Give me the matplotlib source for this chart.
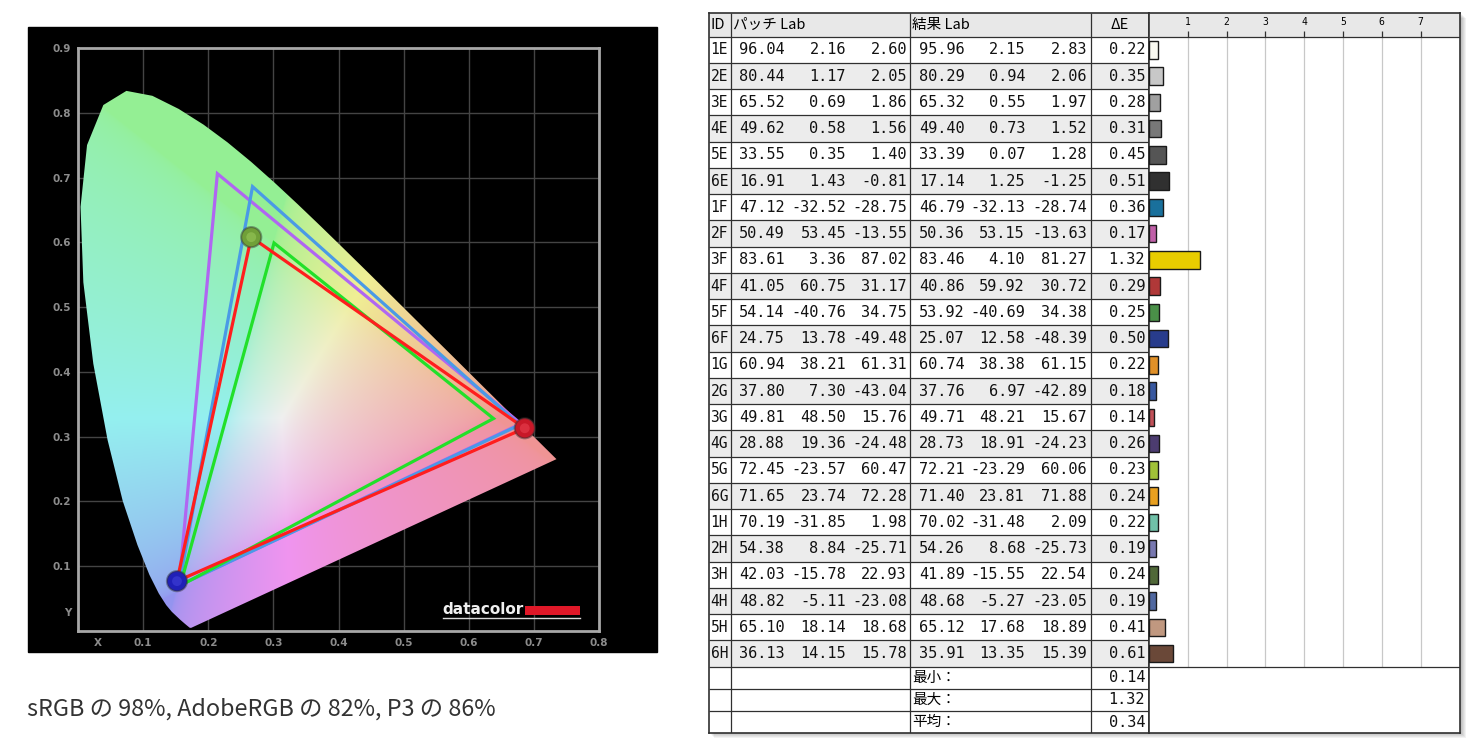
import numpy as np
import matplotlib
matplotlib.use('Agg')
import matplotlib.pyplot as plt
from matplotlib.patches import Polygon, Rectangle

W, H = 1476, 753
JP = ['Noto Sans CJK JP', 'DejaVu Sans']
MONO = 'DejaVu Sans Mono'

# CIE 1931 spectral locus (x, y), 380..700 nm
locus_x = [0.1741, 0.1733, 0.1714, 0.1644, 0.1566, 0.1440, 0.1355, 0.1241, 0.1096,
           0.0913, 0.0687, 0.0454, 0.0235, 0.0082, 0.0039, 0.0139, 0.0389, 0.0743,
           0.1142, 0.1547, 0.1929, 0.2296, 0.2658, 0.3016, 0.3373, 0.3731, 0.4087,
           0.4441, 0.4788, 0.5125, 0.5448, 0.5752, 0.6029, 0.6270, 0.6658, 0.6915,
           0.7079, 0.7190, 0.7347]
locus_y = [0.0050, 0.0048, 0.0051, 0.0109, 0.0177, 0.0297, 0.0399, 0.0578, 0.0868,
           0.1327, 0.2007, 0.2950, 0.4127, 0.5384, 0.6548, 0.7502, 0.8120, 0.8338,
           0.8262, 0.8059, 0.7816, 0.7543, 0.7243, 0.6923, 0.6589, 0.6245, 0.5896,
           0.5547, 0.5202, 0.4866, 0.4544, 0.4242, 0.3965, 0.3725, 0.3340, 0.3083,
           0.2920, 0.2809, 0.2653]

# gamut triangles, vertices R, G, B
adobe_x = [0.68, 0.214, 0.155]
adobe_y = [0.32, 0.706, 0.07]
p3_x = [0.678, 0.268, 0.155]
p3_y = [0.318, 0.686, 0.07]
srgb_x = [0.638, 0.301, 0.157]
srgb_y = [0.328, 0.599, 0.07]
meas_x = [0.686, 0.266, 0.152]
meas_y = [0.313, 0.608, 0.077]

caption = 'sRGB の 98%, AdobeRGB の 82%, P3 の 86%'

# colour check table
ids = ['1E', '2E', '3E', '4E', '5E', '6E', '1F', '2F', '3F', '4F', '5F', '6F',
       '1G', '2G', '3G', '4G', '5G', '6G', '1H', '2H', '3H', '4H', '5H', '6H']
patch_L = [96.04, 80.44, 65.52, 49.62, 33.55, 16.91, 47.12, 50.49, 83.61, 41.05, 54.14, 24.75,
           60.94, 37.80, 49.81, 28.88, 72.45, 71.65, 70.19, 54.38, 42.03, 48.82, 65.10, 36.13]
patch_a = [2.16, 1.17, 0.69, 0.58, 0.35, 1.43, -32.52, 53.45, 3.36, 60.75, -40.76, 13.78,
           38.21, 7.30, 48.50, 19.36, -23.57, 23.74, -31.85, 8.84, -15.78, -5.11, 18.14, 14.15]
patch_b = [2.60, 2.05, 1.86, 1.56, 1.40, -0.81, -28.75, -13.55, 87.02, 31.17, 34.75, -49.48,
           61.31, -43.04, 15.76, -24.48, 60.47, 72.28, 1.98, -25.71, 22.93, -23.08, 18.68, 15.78]
res_L = [95.96, 80.29, 65.32, 49.40, 33.39, 17.14, 46.79, 50.36, 83.46, 40.86, 53.92, 25.07,
         60.74, 37.76, 49.71, 28.73, 72.21, 71.40, 70.02, 54.26, 41.89, 48.68, 65.12, 35.91]
res_a = [2.15, 0.94, 0.55, 0.73, 0.07, 1.25, -32.13, 53.15, 4.10, 59.92, -40.69, 12.58,
         38.38, 6.97, 48.21, 18.91, -23.29, 23.81, -31.48, 8.68, -15.55, -5.27, 17.68, 13.35]
res_b = [2.83, 2.06, 1.97, 1.52, 1.28, -1.25, -28.74, -13.63, 81.27, 30.72, 34.38, -48.39,
         61.15, -42.89, 15.67, -24.23, 60.06, 71.88, 2.09, -25.73, 22.54, -23.05, 18.89, 15.39]
delta_e = [0.22, 0.35, 0.28, 0.31, 0.45, 0.51, 0.36, 0.17, 1.32, 0.29, 0.25, 0.50,
           0.22, 0.18, 0.14, 0.26, 0.23, 0.24, 0.22, 0.19, 0.24, 0.19, 0.41, 0.61]
bar_colors = ['#f8f8f0', '#c8c8c8', '#a0a0a0', '#787878', '#555555', '#303030',
              '#19709c', '#c060a8', '#e8cc00', '#b03838', '#4a9048', '#283c8c',
              '#e09028', '#3858a0', '#c05058', '#4c3c70', '#a0c038', '#e8a020',
              '#70c0a8', '#7878b0', '#506838', '#5068a0', '#c09880', '#6a4838']
summary_labels = ['最小：', '最大：', '平均：']
summary_values = [0.14, 1.32, 0.34]
de_ticks = [1, 2, 3, 4, 5, 6, 7]


def px_box(x0, y0, x1, y1):
    return [x0 / W, 1 - y1 / H, (x1 - x0) / W, (y1 - y0) / H]


fig = plt.figure(figsize=(W / 100, H / 100), dpi=100)
fig.patch.set_facecolor('white')

# background canvas in pixel units
bg = fig.add_axes([0, 0, 1, 1], zorder=-5)
bg.set_xlim(0, W)
bg.set_ylim(H, 0)
bg.axis('off')
bg.add_patch(Rectangle((28, 27), 629, 625, color='black'))
for k in range(1, 6):
    bg.add_patch(Rectangle((709 + k, 13 + k), 752, 720, color='black', alpha=0.05, lw=0))
bg.text(27, 709, caption, fontsize=16.8, color='#333333', family=JP, va='center', ha='left')

# ---- chromaticity diagram ----
ax = fig.add_axes(px_box(78, 48, 599, 631))
ax.set_facecolor('black')
ax.set_xlim(0, 0.8)
ax.set_ylim(0, 0.9)
ax.set_xticks([0.03] + [0.1 * i for i in range(1, 9)])
ax.set_xticklabels(['X'] + ['%.1f' % (0.1 * i) for i in range(1, 9)])
ax.set_yticks([0.03] + [0.1 * i for i in range(1, 10)])
ax.set_yticklabels(['Y'] + ['%.1f' % (0.1 * i) for i in range(1, 10)])
ax.tick_params(length=0, labelsize=7.5, labelcolor='#8c8c8c', pad=5)
for lab in ax.get_xticklabels() + ax.get_yticklabels():
    lab.set_fontweight('bold')
for s in ax.spines.values():
    s.set_color('#a8a8a8')
    s.set_linewidth(2)
for v in np.arange(0.1, 0.8, 0.1):
    ax.axvline(v, color='#444444', lw=1, zorder=0.5)
for v in np.arange(0.1, 0.9, 0.1):
    ax.axhline(v, color='#444444', lw=1, zorder=0.5)

# chromaticity colours, clipped to sRGB and washed towards white
gx = np.linspace(0, 0.8, 560)
gy = np.linspace(0.002, 0.9, 630)
GX, GY = np.meshgrid(gx, gy)
XYZ = np.stack([GX / GY, np.ones_like(GX), (1 - GX - GY) / GY], -1)
M = np.array([[3.2406, -1.5372, -0.4986],
              [-0.9689, 1.8758, 0.0415],
              [0.0557, -0.2040, 1.0570]])
rgb = np.clip(XYZ @ M.T, 0, None)
rgb /= rgb.max(-1, keepdims=True)
rgb = rgb ** (1 / 2.2)
rgb = 0.94 * (0.62 + 0.38 * rgb)

locus = Polygon(np.column_stack([locus_x, locus_y]), closed=True, fill=False, lw=0)
ax.add_patch(locus)
im = ax.imshow(rgb, extent=(0, 0.8, 0.002, 0.9), origin='lower', aspect='auto',
               interpolation='bilinear', zorder=1)
im.set_clip_path(locus)

for tx, ty, col in [(adobe_x, adobe_y, '#b066f2'), (p3_x, p3_y, '#4a9ae6'),
                    (srgb_x, srgb_y, '#22e02a'), (meas_x, meas_y, '#ff1e1e')]:
    ax.add_patch(Polygon(np.column_stack([tx, ty]), closed=True, fill=False,
                         edgecolor=col, lw=2.3, zorder=3, joinstyle='miter'))

ax.scatter(meas_x, meas_y, s=210, c=['#c81828', '#70a038', '#2020b8'],
           edgecolors=(0.2, 0.2, 0.2, 0.45), linewidths=1.5, zorder=4)
ax.scatter(meas_x, meas_y, s=50, c=['#e84050', '#98c858', '#4040d8'],
           linewidths=0, zorder=5, alpha=0.6)

# logo overlay
top = fig.add_axes([0, 0, 1, 1], zorder=10)
top.set_xlim(0, W)
top.set_ylim(H, 0)
top.axis('off')
top.text(442, 609, 'datacolor', color='#f0f0f0', fontsize=11, fontweight='bold',
         va='center', ha='left', family='DejaVu Sans')
top.add_patch(Rectangle((525, 606), 55, 9, color='#e01828', lw=0))
top.plot([443, 580], [617.5, 617.5], color='#d8d8d8', lw=1)

# ---- table ----
head_h = 23.7
row_h = 26.25
sum_h = 22.2
n = len(ids)
data_top = head_h
data_end = head_h + n * row_h
row_c = [data_top + (i + 0.5) * row_h for i in range(n)]
sum_c = [data_end + (j + 0.5) * sum_h for j in range(len(summary_labels))]
tab_end = data_end + len(summary_labels) * sum_h
edges = [0, head_h] + [data_top + (i + 1) * row_h for i in range(n)] + \
        [data_end + (j + 1) * sum_h for j in range(len(summary_labels))]

tab = fig.add_axes(px_box(709, 13, 1149, 13 + tab_end), zorder=2)
tab.set_xlim(0, 440)
tab.set_ylim(tab_end, 0)
tab.set_xticks([])
tab.set_yticks([])
for s in tab.spines.values():
    s.set_color('#303030')
    s.set_linewidth(1.2)

tab.axhspan(0, head_h, color='#e8e8e8', lw=0)
for i in range(n):
    if i % 2 == 1:
        tab.axhspan(data_top + i * row_h, data_top + (i + 1) * row_h, color='#ececec', lw=0)
tab.hlines(edges[1:-1], 0, 440, color='#303030', lw=0.9)
tab.vlines([22, 201, 382], 0, tab_end, color='#303030', lw=0.9)

tab.text(1.5, head_h / 2, 'ID', fontsize=10.5, family=JP, va='center')
tab.text(24, head_h / 2, 'パッチ Lab', fontsize=10.5, family=JP, va='center')
tab.text(203, head_h / 2, '結果 Lab', fontsize=10.5, family=JP, va='center')
tab.text(411, head_h / 2, 'ΔE', fontsize=10.5, family=JP, va='center', ha='center')

cols = [(76, patch_L), (137, patch_a), (198, patch_b), (256, res_L), (316, res_a),
        (378, res_b), (436, delta_e)]
for i in range(n):
    tab.text(1.5, row_c[i], ids[i], fontsize=10.5, family=MONO, va='center', color='#111111')
    for xr, vals in cols:
        tab.text(xr, row_c[i], '%.2f' % vals[i], fontsize=11, family=MONO,
                 va='center', ha='right', color='#111111')
for j in range(len(summary_labels)):
    tab.text(203, sum_c[j], summary_labels[j], fontsize=10.5, family=JP, va='center')
    tab.text(436, sum_c[j], '%.2f' % summary_values[j], fontsize=11, family=MONO,
             va='center', ha='right', color='#111111')

bar = fig.add_axes(px_box(1149, 13, 1460, 13 + tab_end), zorder=2)
bar.set_xlim(0, 311 / 38.8)
bar.set_ylim(tab_end, 0)
bar.set_xticks([])
bar.set_yticks([])
for s in bar.spines.values():
    s.set_color('#303030')
    s.set_linewidth(1.2)
bar.axhspan(0, head_h, color='#e8e8e8', lw=0)
bar.vlines(de_ticks, data_top, data_end, color='#c8c8c8', lw=0.9)
bar.vlines(de_ticks, head_h - 6, head_h, color='#303030', lw=0.9)
for t in de_ticks:
    bar.text(t, 9, str(t), fontsize=7, family=MONO, ha='center', va='center')
bar.hlines([head_h, data_end], 0, 311 / 38.8, color='#303030', lw=0.9)
bar.barh(row_c, delta_e, height=17.5, left=0, color=bar_colors,
         edgecolor='#1a1a1a', lw=1, zorder=3)

fig.savefig('out.png', dpi=100, facecolor='white')
